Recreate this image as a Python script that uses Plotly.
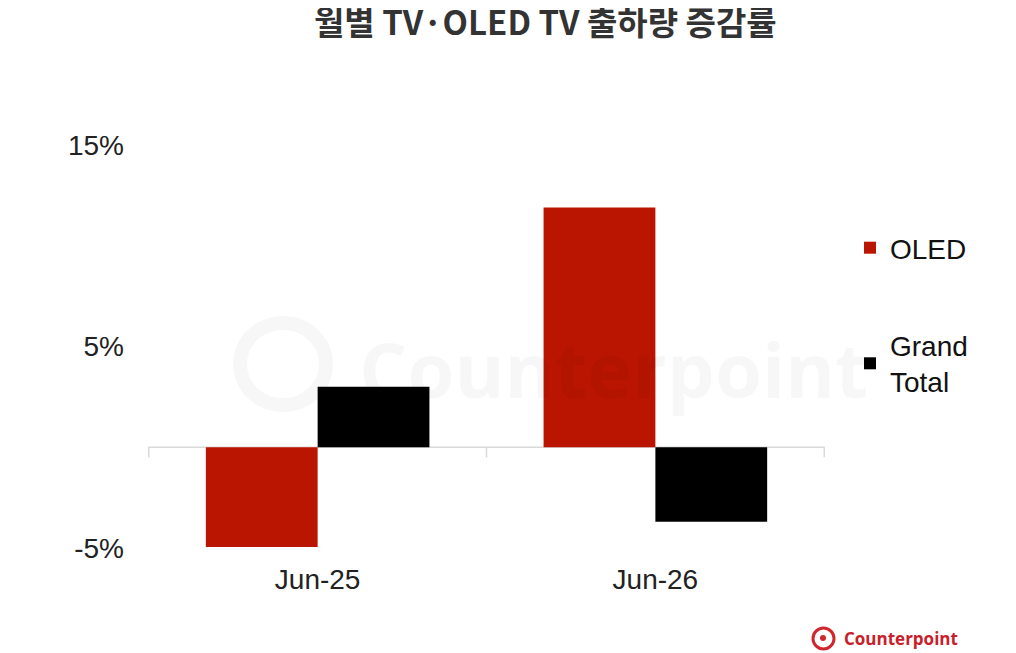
import plotly.graph_objects as go

categories = ["Jun-25", "Jun-26"]
oled = [-4.95, 11.9]
grand_total = [3.0, -3.7]
series_names = ["OLED", "Grand<br>Total"]
tick_vals = [-5, 5, 15]
tick_text = ["-5%", "5%", "15%"]
title_text = "월별 TV·OLED TV 출하량 증감률"

W, H = 1016, 653
OFF = 8  # page body margin
L, T = 140, 137
PW, PH = 677, 403
R, B = W - L - PW, H - T - PH

def px(x):
    return (x - OFF - L) / PW

def py(y):
    return (H - B - (y - OFF)) / PH

fig = go.Figure()
fig.add_trace(go.Bar(x=categories, y=oled, name=series_names[0], legendgroup="a",
                     marker=dict(color="#b91500", line=dict(width=0))))
fig.add_trace(go.Bar(x=categories, y=grand_total, name=series_names[1], legendgroup="b",
                     marker=dict(color="#000000", line=dict(width=0))))

shapes = []
shapes.append(dict(type="line", xref="paper", yref="y", x0=0, x1=1, y0=0, y1=0,
                   line=dict(color="#d9d9d9", width=1.5), layer="below"))
for xv in [-0.5, 0.5, 1.5]:
    shapes.append(dict(type="line", xref="x", yref="y", x0=xv, x1=xv, y0=0, y1=-0.5,
                       line=dict(color="#d9d9d9", width=1.5), layer="below"))
shapes.append(dict(type="circle", xref="paper", yref="paper",
                   x0=px(240), x1=px(326), y0=py(405), y1=py(323),
                   line=dict(color="rgba(0,0,0,0.03)", width=14), layer="below"))
shapes.append(dict(type="circle", xref="paper", yref="paper",
                   x0=px(813), x1=px(834), y0=py(649), y1=py(628),
                   line=dict(color="#d0262d", width=3)))
shapes.append(dict(type="circle", xref="paper", yref="paper",
                   x0=px(820), x1=px(826), y0=py(641), y1=py(635),
                   fillcolor="#d0262d", line=dict(width=0)))
shapes.append(dict(type="rect", xref="paper", yref="paper",
                   x0=px(1012), x1=px(1030), y0=py(670), y1=py(0),
                   fillcolor="#e6e6e6", line=dict(width=0)))

annotations = [
    dict(text=title_text, xref="paper", yref="paper", x=px(545), y=py(21),
         xanchor="center", yanchor="middle", showarrow=False,
         font=dict(family="Noto Sans CJK KR", size=33, color="#333333", weight="bold")),
    dict(text="Counterpoint", xref="paper", yref="paper", x=px(613), y=py(368),
         xanchor="center", yanchor="middle", showarrow=False,
         font=dict(family="Open Sans", size=76, color="rgba(0,0,0,0.03)", weight="bold")),
    dict(text="Counterpoint", xref="paper", yref="paper", x=px(842), y=py(638),
         xanchor="left", yanchor="middle", showarrow=False,
         font=dict(family="Open Sans", size=17, color="#c8202a", weight="bold")),
]

fig.update_layout(
    width=W, height=H,
    margin=dict(l=L, r=R, t=T, b=B, autoexpand=False),
    paper_bgcolor="white", plot_bgcolor="white",
    barmode="group", bargap=0.338, bargroupgap=0,
    font=dict(family="Liberation Sans", size=28, color="#222222"),
    xaxis=dict(showgrid=False, showline=False, zeroline=False, ticks="",
               ticklabelstandoff=12, tickfont=dict(size=28, color="#222222")),
    yaxis=dict(range=[-5, 15], tickvals=tick_vals, ticktext=tick_text,
               showgrid=False, showline=False, zeroline=False, ticks="",
               ticklabelstandoff=23, tickfont=dict(size=28, color="#222222")),
    legend=dict(x=px(850), y=py(223), xanchor="left", yanchor="top",
                traceorder="grouped", tracegroupgap=58,
                font=dict(size=28, color="#111111"), bgcolor="rgba(0,0,0,0)"),
    shapes=shapes, annotations=annotations,
    showlegend=True,
)

fig.write_html("out.html")
